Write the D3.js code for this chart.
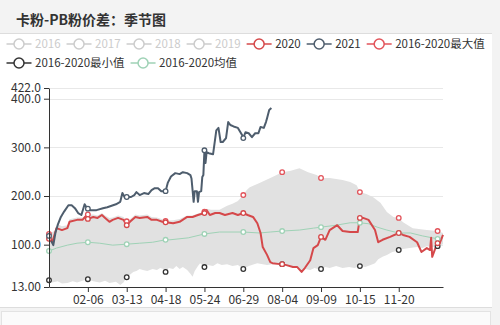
<!DOCTYPE html>
<html>
<head>
<meta charset="utf-8">
<script src="https://cdn.jsdelivr.net/npm/d3@7"></script>
<style>
  body { margin: 0; background: #f3f3f3; }
  svg { display: block; font-family: "Noto Sans CJK SC", "Noto Sans", sans-serif; }
</style>
</head>
<body>
<svg id="chart" width="500" height="325"></svg>
<script>
// ----------

const TITLE = "卡粉-PB粉价差：季节图";

// x categories: every day of a leap year, "MM-DD"
const categories = d3.timeDay
  .range(new Date(2020, 0, 1), new Date(2021, 0, 1))
  .map(d3.timeFormat("%m-%d"));
const xTickLabels = ["02-06", "03-13", "04-18", "05-24", "06-29", "08-04", "09-09", "10-15", "11-20"];

const yTicks = [13, 100, 200, 300, 400, 422];
const yTickLabels = ["13.00", "100.0", "200.0", "300.0", "400.0", "422.0"];

const legendNames = ["2016", "2017", "2018", "2019", "2020", "2021", "2016-2020最大值", "2016-2020最小值", "2016-2020均值"];
const legendOn = [false, false, false, false, true, true, true, true, true];

// [day index, value]
const series2020 = [
  [0, 112], [3, 105], [7, 134], [12, 130], [17, 134], [19, 147], [26, 151], [31, 151], [35, 161], [36, 153],
  [41, 157], [45, 155], [49, 161], [52, 155], [56, 147], [59, 151], [64, 155], [69, 151], [72, 140], [75, 147],
  [80, 157], [84, 155], [91, 157], [95, 151], [100, 151], [105, 147], [108, 146], [115, 144], [121, 147],
  [128, 157], [133, 157], [138, 161], [144, 165], [146, 171], [149, 161], [154, 165], [158, 165], [163, 161],
  [170, 165], [175, 161], [180, 165], [184, 161], [189, 157], [193, 144], [196, 124], [198, 95], [202, 79],
  [205, 64], [207, 62], [214, 60], [216, 60], [220, 58], [226, 54], [230, 54], [234, 44], [237, 52], [242, 68],
  [245, 93], [249, 99], [252, 116], [256, 110], [260, 130], [267, 140], [272, 128], [279, 126], [286, 126],
  [288, 155], [291, 155], [296, 151], [302, 130], [305, 105], [309, 110], [316, 116], [324, 124], [328, 120],
  [334, 116], [341, 105], [345, 85], [350, 93], [353, 89], [354, 114], [355, 75], [359, 99], [360, 103],
  [362, 103], [365, 120],
];

const series2021 = [
  [0, 118], [2, 108], [4, 99], [6, 125], [8, 140], [11, 157], [14, 168], [18, 181], [21, 181], [24, 175],
  [27, 165], [30, 161], [33, 183], [35, 176], [36, 174], [38, 171], [44, 171], [50, 175], [54, 177], [58, 180],
  [62, 183], [66, 188], [68, 206], [70, 198], [72, 198], [76, 198], [79, 202], [81, 208], [84, 202], [88, 206],
  [92, 204], [95, 212], [98, 216], [101, 216], [104, 210], [108, 210], [110, 227], [113, 240], [117, 247],
  [121, 245], [124, 249], [128, 247], [131, 243], [132, 236], [133, 212], [134, 188], [135, 210], [137, 210],
  [138, 188], [139, 208], [141, 210], [142, 239], [143, 243], [144, 294], [145, 268], [146, 290], [148, 288],
  [152, 286], [155, 335], [157, 340], [159, 311], [161, 311], [164, 319], [166, 352], [168, 346], [171, 343],
  [175, 340], [179, 325], [180, 319], [182, 331], [185, 329], [188, 321], [191, 329], [194, 329], [196, 342],
  [199, 340], [201, 352], [202, 360], [204, 377], [206, 381],
];

const seriesMax = [
  [0, 122], [5, 128], [8, 142], [12, 138], [17, 140], [19, 152], [26, 156], [31, 156], [36, 162], [41, 162],
  [45, 160], [49, 165], [52, 160], [56, 155], [59, 156], [64, 160], [69, 157], [72, 148], [75, 152], [80, 162],
  [84, 160], [91, 162], [95, 157], [100, 156], [105, 152], [108, 149], [115, 150], [121, 153], [128, 160],
  [133, 160], [138, 164], [144, 168], [146, 174], [150, 172], [158, 172], [165, 180], [170, 184], [175, 190],
  [180, 202], [183, 212], [186, 218], [195, 227], [207, 239], [216, 249], [224, 252], [232, 257], [240, 249],
  [248, 243], [252, 237], [260, 237], [272, 233], [279, 229], [285, 222], [288, 208], [294, 204], [300, 198],
  [307, 186], [313, 167], [319, 157], [324, 155], [328, 146], [337, 134], [350, 130], [360, 128], [365, 124],
];

const seriesMin = [
  [0, 27], [3, 22], [8, 25], [12, 20], [17, 21], [22, 25], [26, 22], [31, 26], [36, 29], [41, 25], [47, 22],
  [52, 26], [56, 21], [62, 24], [66, 17], [69, 22], [72, 33], [75, 38], [78, 44], [81, 46], [84, 50], [87, 48],
  [91, 46], [96, 50], [100, 48], [103, 52], [106, 50], [108, 44], [111, 52], [115, 50], [118, 56], [121, 50],
  [124, 54], [128, 48], [131, 40], [133, 34], [135, 46], [138, 56], [140, 62], [144, 54], [147, 58], [152, 56],
  [156, 62], [160, 58], [165, 60], [170, 56], [175, 58], [180, 50], [185, 56], [190, 60], [193, 62], [198, 60],
  [202, 58], [207, 60], [212, 60], [216, 60], [220, 58], [226, 54], [230, 54], [234, 44], [237, 50], [242, 48],
  [246, 52], [249, 50], [252, 50], [256, 54], [260, 52], [266, 56], [272, 52], [278, 54], [283, 52], [288, 56],
  [293, 54], [298, 58], [302, 62], [305, 70], [309, 75], [313, 79], [318, 85], [322, 87], [324, 89], [328, 91],
  [334, 93], [341, 95], [346, 93], [350, 97], [355, 95], [360, 97], [365, 101],
];

const seriesMean = [
  [0, 87], [7, 93], [17, 99], [26, 103], [36, 105], [47, 103], [59, 99], [72, 101], [84, 103], [96, 105],
  [108, 110], [112, 110], [129, 114], [144, 122], [158, 126], [180, 126], [195, 124], [205, 126], [216, 128],
  [232, 130], [245, 134], [252, 136], [266, 140], [279, 145], [288, 145], [296, 143], [304, 136], [313, 130],
  [324, 124], [335, 124], [346, 118], [360, 112], [365, 114],
];

const SYMBOL_EVERY = 36;

const COLOR_2020 = "#d5484a";
const COLOR_2021 = "#4e5d6d";
const COLOR_MAX = "#e2535a";
const COLOR_MIN = "#333";
const COLOR_MEAN = "#9fd2b6";
const COLOR_BAND = "#e1e1e1";
const COLOR_OFF = "#ccc";
const legendColors = [COLOR_OFF, COLOR_OFF, COLOR_OFF, COLOR_OFF, COLOR_2020, COLOR_2021, COLOR_MAX, COLOR_MIN, COLOR_MEAN];

// ----------

const svg = d3.select("#chart");
const plot = { left: 49, right: 443, top: 88, bottom: 287 };

// page frame: title bar, white panel, bottom strip
svg.append("rect").attr("x", 0).attr("y", 0).attr("width", 500).attr("height", 325).attr("fill", "#f3f3f3");
svg.append("rect").attr("x", 0).attr("y", 34).attr("width", 492).attr("height", 273).attr("fill", "#fff");
svg.append("line").attr("x1", 0).attr("x2", 492).attr("y1", 33.5).attr("y2", 33.5).attr("stroke", "#ddd");
svg.append("line").attr("x1", 0).attr("x2", 492).attr("y1", 307.5).attr("y2", 307.5).attr("stroke", "#ddd");
svg.append("rect").attr("x", 1.5).attr("y", 311.5).attr("width", 489).attr("height", 20)
  .attr("fill", "#fbfbfb").attr("stroke", "#e3e3e3");

svg.append("text")
  .attr("x", 16).attr("y", 25)
  .attr("font-size", 14).attr("font-weight", "bold").attr("fill", "#333")
  .text(TITLE);

// ---------- legend (flow layout, wraps at the panel edge)

const legend = svg.append("g");
const LEGEND_LEFT = 6.5, LEGEND_ROW = 19, LEGEND_RIGHT = 490;

function legendItem(lx, ly, i) {
  const g = legend.append("g");
  const c = legendColors[i];
  g.append("line").attr("x1", lx).attr("x2", lx + 25).attr("y1", ly).attr("y2", ly)
    .attr("stroke", c).attr("stroke-width", 1.5);
  g.append("circle").attr("cx", lx + 12.5).attr("cy", ly).attr("r", 5)
    .attr("fill", "#fff").attr("stroke", c).attr("stroke-width", 1.5);
  const t = g.append("text").attr("x", lx + 28.5).attr("y", ly).attr("dy", "0.35em")
    .attr("font-size", 11.5).attr("fill", legendOn[i] ? "#333" : COLOR_OFF).text(legendNames[i]);
  return { g: g, w: 28.5 + t.node().getComputedTextLength() };
}

let lx = LEGEND_LEFT, ly = 44;
legendNames.forEach(function (name, i) {
  let item = legendItem(lx, ly, i);
  if (lx + item.w > LEGEND_RIGHT && lx > LEGEND_LEFT) {
    item.g.remove();
    lx = LEGEND_LEFT;
    ly += LEGEND_ROW;
    item = legendItem(lx, ly, i);
  }
  lx += item.w + 6;
});

// ---------- scales

const x = d3.scaleLinear().domain([0, categories.length - 1]).range([plot.left, plot.right]);
const y = d3.scaleLinear().domain([13, 422]).range([plot.bottom, plot.top]);

// grid
svg.append("g").selectAll("line")
  .data(yTicks.slice(1))
  .join("line")
  .attr("x1", plot.left).attr("x2", plot.right)
  .attr("y1", d => Math.round(y(d)) + 0.5).attr("y2", d => Math.round(y(d)) + 0.5)
  .attr("stroke", "#e8e8e8");

// band between min and max
const line = d3.line().x(d => x(d[0])).y(d => y(d[1]));
const bandPath = line(seriesMax) + "L" + line(seriesMin.slice().reverse()).slice(1) + "Z";
svg.append("path").attr("d", bandPath).attr("fill", COLOR_BAND).attr("stroke", "none");

// lines
svg.append("path").datum(seriesMean).attr("d", line)
  .attr("fill", "none").attr("stroke", COLOR_MEAN).attr("stroke-width", 1);
svg.append("path").datum(series2020).attr("d", line)
  .attr("fill", "none").attr("stroke", COLOR_2020).attr("stroke-width", 2).attr("stroke-linejoin", "round");
svg.append("path").datum(series2021).attr("d", line)
  .attr("fill", "none").attr("stroke", COLOR_2021).attr("stroke-width", 2).attr("stroke-linejoin", "round");

// symbols every 36 categories
function drawSymbols(data, color) {
  svg.append("g").selectAll("circle")
    .data(data.filter(d => d[0] % SYMBOL_EVERY === 0))
    .join("circle")
    .attr("cx", d => x(d[0])).attr("cy", d => y(d[1])).attr("r", 2.3)
    .attr("fill", "#fff").attr("stroke", color).attr("stroke-width", 1.3);
}
drawSymbols(seriesMean, COLOR_MEAN);
drawSymbols(seriesMin, COLOR_MIN);
drawSymbols(seriesMax, COLOR_MAX);
drawSymbols(series2020, COLOR_2020);
drawSymbols(series2021, COLOR_2021);

// ---------- axes

const yAxis = svg.append("g")
  .attr("transform", `translate(${plot.left},0)`)
  .call(d3.axisLeft(y).tickValues(yTicks).tickSize(5).tickSizeOuter(0)
    .tickFormat((d, i) => yTickLabels[i]));

const xTickIdx = xTickLabels.map(l => categories.indexOf(l));
const xAxis = svg.append("g")
  .attr("transform", `translate(0,${plot.bottom})`)
  .call(d3.axisBottom(x).tickValues(xTickIdx).tickSize(5).tickSizeOuter(0)
    .tickFormat(i => categories[i]));

[yAxis, xAxis].forEach(function (a) {
  a.select(".domain").attr("stroke", "#333");
  a.selectAll(".tick line").attr("stroke", "#333");
  a.selectAll(".tick text").attr("font-size", 12).attr("fill", "#333")
    .attr("font-family", '"Noto Sans CJK SC", "Noto Sans", sans-serif');
});
</script>
</body>
</html>
